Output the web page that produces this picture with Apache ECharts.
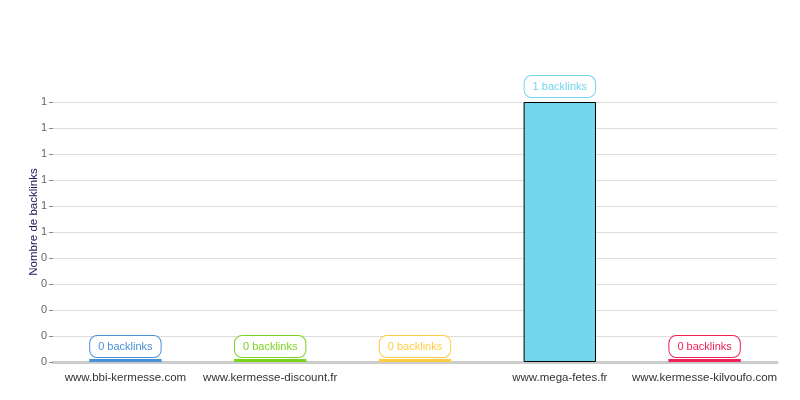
<!DOCTYPE html>
<html><head><meta charset="utf-8">
<script src="https://cdn.jsdelivr.net/npm/echarts@6/dist/echarts.min.js"></script>
<style>html,body{margin:0;padding:0;background:#fff}#c{width:800px;height:400px}</style>
</head><body><div id="c"></div>
<script>
const categories = ['www.bbi-kermesse.com','www.kermesse-discount.fr','','www.mega-fetes.fr','www.kermesse-kilvoufo.com'];
const values = [0,0,0,1,0];
const colors = ['#4a90d9','#7ed321','#ffcc44','#72d6ec','#ee2255'];
const yTicks = {min:0,max:1,interval:0.1};

const chart = echarts.init(document.getElementById('c'));
chart.setOption({
  animation:false,
  grid:{left:53,right:23,top:102,bottom:38},
  xAxis:{type:'category',data:categories,
    axisLine:{lineStyle:{color:'#cccccc',width:3}},
    axisTick:{alignWithLabel:true,length:4,lineStyle:{color:'#666'}},
    axisLabel:{color:'#333',fontFamily:'Liberation Sans, Arial',fontSize:11.5,margin:10,interval:0}},
  yAxis:{type:'value',min:yTicks.min,max:yTicks.max,interval:yTicks.interval,
    name:'Nombre de backlinks',nameLocation:'middle',nameGap:13,nameMoveOverlap:false,
    nameTextStyle:{color:'#1a1a5a',fontFamily:'Liberation Sans, Arial',fontSize:11.5,padding:[0,0,0,20]},
    axisLine:{show:false},
    axisTick:{show:true,length:4,lineStyle:{color:'#888'}},
    axisLabel:{color:'#666',fontFamily:'Liberation Sans, Arial',fontSize:11,margin:6,formatter:v=>String(Math.round(v))},
    splitLine:{lineStyle:{color:'#dddddd'}}},
  series:[{type:'bar',barWidth:'50%',barMinHeight:3,
    data:values.map((v,i)=>({value:v,
      itemStyle:{color:colors[i],borderColor:v>0?'#000':colors[i],borderWidth:v>0?1:0},
      label:{color:colors[i],borderColor:colors[i],distance:v>0?5:2}})),
    label:{show:true,position:'top',formatter:p=>p.value+' backlinks',
      fontFamily:'Liberation Sans, Arial',fontSize:11,backgroundColor:'#fff',borderWidth:1,borderRadius:7,
      padding:[5,8,5,8]}}]
});
</script></body></html>
